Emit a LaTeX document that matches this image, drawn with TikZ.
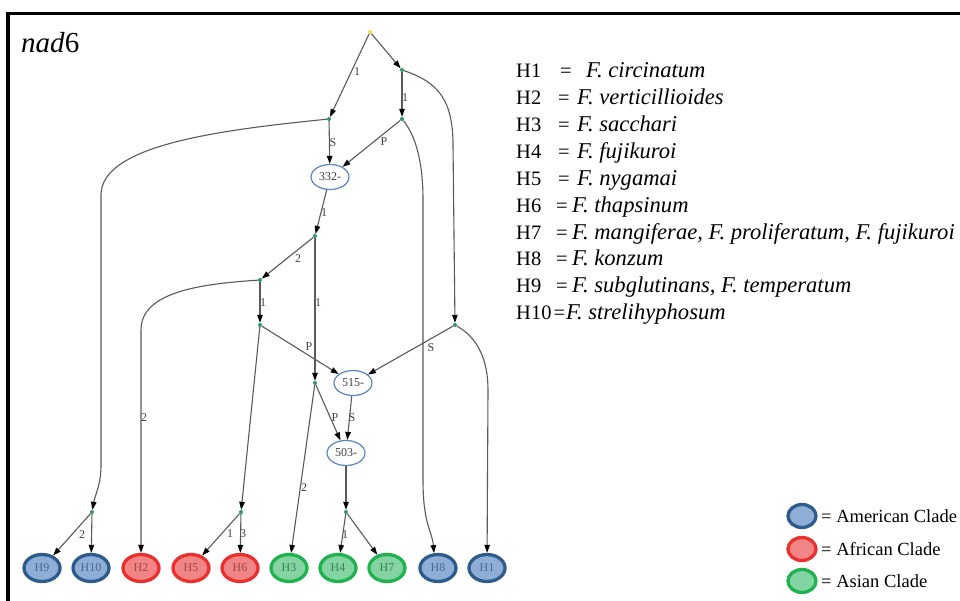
\documentclass[tikz,border=0pt]{standalone}
\usepackage{fontspec}
\setmainfont{Liberation Serif}
\usetikzlibrary{arrows.meta,shapes.geometric}
\definecolor{edgec}{HTML}{5A5A5A}
\definecolor{dotc}{HTML}{2E9A5E}
\definecolor{rootc}{HTML}{E6E04A}
\definecolor{ellb}{HTML}{5B86C4}
\definecolor{amF}{HTML}{8FAED6}
\definecolor{amD}{HTML}{2F5B8C}
\definecolor{amT}{HTML}{4B6890}
\definecolor{afF}{HTML}{F18585}
\definecolor{afD}{HTML}{E8302F}
\definecolor{afT}{HTML}{A94545}
\definecolor{asF}{HTML}{84D3A3}
\definecolor{asD}{HTML}{22B14F}
\definecolor{asT}{HTML}{3C8259}
\tikzset{
  dotnode/.style={circle,fill=dotc,inner sep=0pt,minimum size=4pt},
  rootnode/.style={circle,fill=rootc,inner sep=0pt,minimum size=4pt},
  midnode/.style={ellipse,draw=ellb,line width=1.2pt,fill=white,minimum width=38pt,minimum height=25pt,inner sep=0pt,font=\fontsize{12}{14}\selectfont,text=black!75},
  leaf/.style={ellipse,line width=3.3pt,minimum width=36pt,minimum height=27pt,inner sep=0pt,font=\fontsize{12}{14}\selectfont},
  am/.style={leaf,draw=amD,fill=amF,text=amT},
  af/.style={leaf,draw=afD,fill=afF,text=afT},
  as/.style={leaf,draw=asD,fill=asF,text=asT},
  legell/.style={ellipse,line width=3.3pt,minimum width=28pt,minimum height=23pt,inner sep=0pt},
  edge/.style={draw=edgec,line width=1.1pt,-{Triangle[length=8pt,width=5.5pt,color=black]}},
  elab/.style={font=\fontsize{12}{14}\selectfont,text=black!75,inner sep=0pt},
  spec/.style={font=\fontsize{20.5}{24}\selectfont,anchor=base west,inner sep=0pt},
  specit/.style={font=\fontsize{22.6}{26}\selectfont\itshape,anchor=base west,inner sep=0pt},
  legtxt/.style={font=\fontsize{18.5}{22}\selectfont,anchor=west,inner sep=0pt},
}
\begin{document}
\begin{tikzpicture}[x=1pt,y=-1pt]
\useasboundingbox (0,0) rectangle (960,601);
\fill[white] (0,0) rectangle (960,601);
% frame
\draw[line width=3.5pt] (8,610) -- (8,13.5) -- (965,13.5);
\node[font=\fontsize{29}{32}\selectfont,anchor=base west,inner sep=0pt] (title) at (21,53) {\textit{nad}6};

% inner nodes
\node[rootnode] (root) at (370,32) {};
\node[dotnode] (A) at (402,70) {};
\node[dotnode] (B) at (329,119) {};
\node[dotnode] (C) at (402,119) {};
\node[midnode] (n332) at (330,177) {332-};
\node[dotnode] (F) at (315,236) {};
\node[dotnode] (G) at (260,280) {};
\node[dotnode] (H) at (260,325) {};
\node[dotnode] (D) at (455,325) {};
\node[dotnode] (I) at (315,383) {};
\node[midnode] (n515) at (353,383) {515-};
\node[midnode] (n503) at (346,453) {503-};
\node[dotnode] (E) at (92,512) {};
\node[dotnode] (J) at (241,512) {};
\node[dotnode] (K) at (346,512) {};

% leaves
\node[am] (H9) at (42,568) {H9};
\node[am] (H10) at (91,568) {H10};
\node[af] (H2) at (141,568) {H2};
\node[af] (H5) at (191,568) {H5};
\node[af] (H6) at (240,568) {H6};
\node[as] (H3) at (289,568) {H3};
\node[as] (H4) at (338,568) {H4};
\node[as] (H7) at (387,568) {H7};
\node[am] (H8) at (438,568) {H8};
\node[am] (H1) at (487,568) {H1};

% edges
\draw[edge] (root) -- (B);
\draw[edge] (root) -- (A);
\draw[edge] (A) -- (C);
\draw[edge] (B) -- (n332);
\draw[edge] (C) -- (n332);
\draw[edge] (A) .. controls (438,82) and (453,100) .. (453,145) -- (D);
\draw[edge] (C) .. controls (415,135) and (423,160) .. (423,200) -- (423,480) .. controls (423,525) and (432,530) .. (H8.105);
\draw[edge] (B) .. controls (220,130) and (101,145) .. (101,195) -- (101,465) .. controls (101,485) and (95,495) .. (E);
\draw[edge] (n332) -- (F);
\draw[edge] (F) -- (G);
\draw[edge] (G) -- (H);
\draw[edge] (G) .. controls (200,284) and (141,292) .. (141,330) -- (H2);
\draw[edge] (F) -- (I);
\draw[edge] (H) -- (n515);
\draw[edge] (D) -- (n515);
\draw[edge] (D) .. controls (478,338) and (488,360) .. (488,390) -- (H1);
\draw[edge] (n515) -- (n503);
\draw[edge] (I) -- (n503);
\draw[edge] (I) -- (H3);
\draw[edge] (H) -- (J);
\draw[edge] (J) -- (H5);
\draw[edge] (J) -- (H6);
\draw[edge] (n503) -- (K);
\draw[edge] (K) -- (H4);
\draw[edge] (K) -- (H7);
\draw[edge] (E) -- (H9);
\draw[edge] (E) -- (H10);

% edge labels
\node[elab] (l1) at (357,72) {1};
\node[elab] (l2) at (405,98) {1};
\node[elab] (l3) at (333,143) {S};
\node[elab] (l4) at (384,142) {P};
\node[elab] (l5) at (324,213) {1};
\node[elab] (l6) at (298,259) {2};
\node[elab] (l7) at (263,303) {1};
\node[elab] (l8) at (318,303) {1};
\node[elab] (l9) at (309,347) {P};
\node[elab] (l10) at (431,348) {S};
\node[elab] (l11) at (144,418) {2};
\node[elab] (l12) at (335,418) {P};
\node[elab] (l13) at (352,418) {S};
\node[elab] (l14) at (304,488) {2};
\node[elab] (l15) at (82,535) {2};
\node[elab] (l16) at (230,534) {1};
\node[elab] (l17) at (243,534) {3};
\node[elab] (l18) at (345,535) {1};

% species list
\foreach \i/\ex/\fx/\sp in {
  1/560/586/{F. circinatum},
  2/558/577/{F. verticillioides},
  3/558/577/{F. sacchari},
  4/558/577/{F. fujikuroi},
  5/558/577/{F. nygamai},
  6/556/572/{F. thapsinum},
  7/556/572/{F. mangiferae, F. proliferatum, F. fujikuroi},
  8/556/572/{F. konzum},
  9/556/572/{F. subglutinans, F. temperatum},
  10/553.5/566/{F. strelihyphosum}} {
  \pgfmathsetmacro{\yy}{78+26.85*(\i-1)}
  \node[spec] (hk\i) at (516,\yy) {H\i};
  \node[spec] (eq\i) at (\ex,\yy) {=};
  \node[specit] (sp\i) at (\fx,\yy) {\sp};
}

% legend
\node[legell,draw=amD,fill=amF] (lgA) at (802,516) {};
\node[legell,draw=afD,fill=afF] (lgB) at (802,549) {};
\node[legell,draw=asD,fill=asF] (lgC) at (802,581) {};
\node[legtxt] (ltA) at (821,516) {= American Clade};
\node[legtxt] (ltB) at (821,549) {= African Clade};
\node[legtxt] (ltC) at (821,581) {= Asian Clade};
\end{tikzpicture}
\end{document}
